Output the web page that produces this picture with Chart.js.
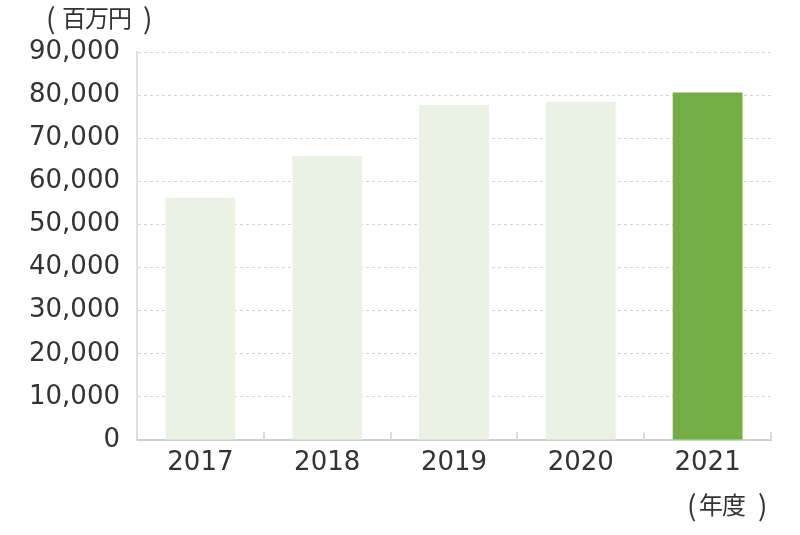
<!DOCTYPE html>
<html>
<head>
<meta charset="utf-8">
<script src="https://cdn.jsdelivr.net/npm/chart.js@4"></script>
<style>
  html, body { margin: 0; padding: 0; background: #fff; }
  #wrap { width: 800px; height: 535px; position: relative; }
</style>
</head>
<body>
<div id="wrap"><canvas id="myChart" width="800" height="535"></canvas></div>
<script>
var years = ['2017', '2018', '2019', '2020', '2021'];
var sales = [56200, 65900, 77700, 78400, 80600];
var barColors = ['#eaf2e3', '#eaf2e3', '#eaf2e3', '#eaf2e3', '#72ae43'];
var unitLabel = '百万円';
var yearLabel = '年度';

var numFont = '"DejaVu Sans", "Liberation Sans", sans-serif';
var jpFont = '"Noto Sans CJK JP", sans-serif';

// draws "( text )" with tall parens and loose spacing like the original
function parenText(c, text, x0, x1, x2, y) {
  c.font = '28px ' + jpFont;
  c.fillText('(', x0, y);
  c.fillText(')', x2, y);
  c.font = '24px ' + jpFont;
  c.letterSpacing = '-1px';
  c.fillText(text, x1, y);
  c.letterSpacing = '0px';
}

// extra texts and the short upward ticks on the x axis
var extras = {
  id: 'extras',
  afterDraw: function(chart) {
    var c = chart.ctx, a = chart.chartArea, x = chart.scales.x;
    c.save();
    c.strokeStyle = '#dcdcdc';
    c.lineWidth = 2;
    for (var i = 0; i <= years.length; i++) {
      var px = Math.round(x.left + (x.right - x.left) * i / years.length);
      c.beginPath();
      c.moveTo(px, a.bottom);
      c.lineTo(px, a.bottom - 8);
      c.stroke();
    }
    c.fillStyle = '#333';
    c.textBaseline = 'middle';
    c.textAlign = 'left';
    parenText(c, unitLabel, 46, 62, 143, 18);
    parenText(c, yearLabel, 687, 699, 758, 505);
    c.restore();
  }
};

document.addEventListener('DOMContentLoaded', function() {
  var ctx = document.getElementById('myChart').getContext('2d');
  var data = {
    labels: years,
    datasets: [{
      data: sales,
      backgroundColor: barColors,
      borderWidth: 0,
      barPercentage: 0.55,
      categoryPercentage: 1
    }]
  };
  var config = {
    type: 'bar',
    data: data,
    plugins: [extras],
    options: {
      responsive: false,
      animation: false,
      layout: { padding: { top: 52, right: 29, left: 0, bottom: 0 } },
      plugins: { legend: { display: false }, tooltip: { enabled: false } },
      scales: {
        x: {
          afterFit: function(s) { s.height = 95; },
          grid: { display: false, drawTicks: false },
          border: { display: true, color: '#cfcfcf', width: 2 },
          ticks: { color: '#333', padding: 8, font: { family: numFont, size: 26 } }
        },
        y: {
          min: 0,
          max: 90000,
          afterFit: function(s) { s.width = 137; },
          ticks: {
            stepSize: 10000,
            color: '#333',
            padding: 17,
            font: { family: numFont, size: 26 },
            callback: function(v) { return v.toLocaleString('en-US'); }
          },
          grid: { color: '#d6d6d6', lineWidth: 1, drawTicks: false },
          border: { display: true, color: '#e0e0e0', width: 2, dash: [3, 3] }
        }
      }
    }
  };
  var myChart = new Chart(ctx, config);
});
</script>
</body>
</html>
